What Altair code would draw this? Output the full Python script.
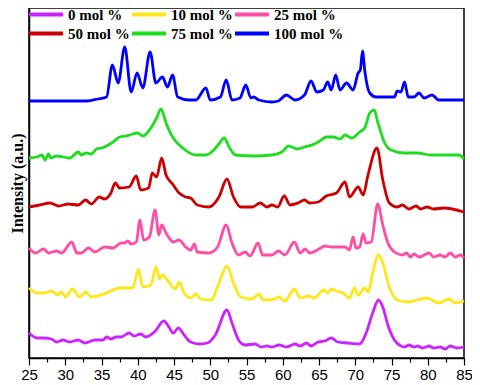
import altair as alt
import pandas as pd

names = ["0 mol %", "10 mol %", "25 mol %", "50 mol %", "75 mol %", "100 mol %"]
colors = ["#CC22FF", "#FFE619", "#FF4DA6", "#CC0000", "#1EDC1E", "#0000FF"]

x_ticks = [25, 27.5, 30, 32.5, 35, 37.5, 40, 42.5, 45, 47.5, 50, 52.5, 55,
           57.5, 60, 62.5, 65, 67.5, 70, 72.5, 75, 77.5, 80, 82.5, 85]

# 100 mol %
x_100 = [25, 30, 33, 34.5, 35.7, 36.5, 37.3, 38.2, 39.1, 39.9, 40.7, 41.7, 42.5,
         43.4, 44.1, 44.8, 45.5, 47.1, 48.0, 49.4, 50.0, 51.4, 52.2, 53.0, 54.1,
         54.9, 55.6, 56.0, 56.7, 58.5, 59.4, 60.5, 61.7, 63.0, 63.9, 64.7, 65.6,
         66.2, 66.7, 67.3, 67.9, 68.8, 69.7, 70.4, 70.7, 71.0, 71.3, 72.0, 72.9,
         74.5, 75.4, 75.8, 76.3, 76.8, 77.3, 78.1, 78.8, 79.5, 80.6, 81.5, 85]
y_100 = [257, 257, 257, 259, 261, 293, 275, 311, 266, 285, 270, 306, 275,
         281, 271, 283, 261, 258, 258, 270, 258, 261, 278, 258, 260,
         273, 260, 261, 258, 256, 257, 263, 258, 263, 277, 266, 268,
         276, 268, 283, 268, 275, 268, 285, 288, 307, 288, 265, 261,
         261, 261, 267, 266, 276, 261, 261, 265, 260, 263, 258, 258]

# 75 mol %
x_75 = [25, 26.1, 26.8, 27.2, 27.7, 28.0, 28.8, 30.6, 31.8, 32.2, 32.9, 33.6,
        34.3, 35.0, 36.6, 37.5, 38.4, 39.3, 40.0, 40.7, 41.8, 42.6, 43.2, 43.9,
        44.8, 46.2, 48.0, 49.4, 50.5, 51.3, 51.9, 52.6, 53.5, 56.2, 58.5, 59.9,
        60.8, 62.0, 63.0, 64.4, 65.1, 66.0, 67.0, 67.9, 68.6, 69.5, 70.6, 71.3,
        72.0, 72.6, 73.1, 74.0, 74.9, 76.8, 78.6, 80.4, 83.1, 84.3, 85]
y_75 = [200, 201, 203, 198, 204, 200, 202, 200, 206, 203, 205, 204,
        209, 210, 216, 221, 222, 224, 225, 222, 230, 240, 249, 235,
        221, 210, 203, 203, 208, 215, 220, 211, 203, 202, 203, 206,
        212, 209, 211, 214, 217, 221, 221, 219, 223, 220, 226, 230,
        245, 248, 236, 216, 208, 205, 205, 203, 203, 203, 199]

# 50 mol %
x_50 = [25, 26.5, 27.9, 29.1, 30.4, 31.8, 32.8, 33.6, 34.7, 35.4, 36.3, 36.9,
        37.5, 38.8, 39.8, 40.4, 41.5, 42.0, 42.6, 43.3, 43.9, 44.8, 45.7, 46.6,
        47.3, 48.2, 49.8, 51.2, 52.3, 53.2, 54.2, 55.8, 56.9, 57.8, 58.5, 59.3,
        60.2, 61.0, 62.1, 63.0, 63.7, 64.9, 66.0, 67.4, 68.6, 69.2, 70.4, 71.1,
        71.7, 73.0, 73.8, 74.7, 75.8, 76.5, 77.4, 78.4, 79.0, 79.9, 80.8, 82.2, 85]
y_50 = [151, 153, 155, 152, 154, 153, 158, 154, 161, 159, 165, 175,
        170, 171, 182, 168, 170, 185, 181, 200, 183, 174, 165, 161,
        160, 153, 151, 161, 179, 161, 151, 151, 155, 151, 153, 151,
        162, 153, 155, 158, 155, 156, 162, 165, 176, 161, 171, 163,
        181, 210, 178, 155, 151, 153, 149, 152, 149, 151, 149, 150, 146]

# 25 mol %
x_25 = [25, 25.9, 27.0, 27.7, 28.8, 29.5, 30.9, 31.6, 32.2, 33.2, 34.1, 35.4,
        36.6, 37.7, 38.2, 38.6, 39.1, 39.8, 40.3, 40.8, 41.6, 42.4, 42.9, 43.3,
        43.9, 44.9, 45.7, 46.6, 47.3, 47.8, 48.2, 49.8, 51.0, 52.2, 53.0, 53.9,
        54.8, 55.5, 56.6, 57.2, 58.5, 59.4, 60.3, 61.6, 62.4, 63.1, 63.7, 65.0,
        65.8, 66.7, 67.6, 68.6, 69.2, 69.7, 70.1, 70.6, 71.1, 71.5, 72.2, 73.1,
        73.8, 74.5, 75.4, 76.5, 77.1, 77.6, 78.1, 78.8, 80.2, 80.8, 81.7, 82.4,
        83.1, 83.8, 84.5, 85]
y_25 = [110, 105, 109, 105, 107, 105, 116, 105, 105, 110, 106, 111,
        110, 115, 115, 117, 114, 116, 138, 118, 121, 148, 123, 133,
        125, 116, 118, 111, 108, 114, 106, 105, 111, 133, 115, 103,
        106, 102, 115, 103, 103, 107, 103, 116, 105, 109, 105, 109,
        112, 111, 111, 111, 108, 121, 110, 111, 124, 115, 116, 154,
        133, 115, 106, 103, 105, 101, 104, 101, 105, 101, 103, 101,
        105, 101, 103, 100]

# 10 mol %
x_10 = [25, 26.1, 27.0, 28.1, 28.9, 29.5, 30.0, 31.0, 32.0, 32.8, 33.6, 35.7,
        37.5, 39.3, 40.1, 40.7, 41.8, 42.5, 43.0, 43.4, 44.1, 44.8, 45.2, 45.7,
        46.4, 47.3, 48.0, 48.7, 50.1, 51.2, 52.3, 53.2, 54.2, 55.8, 56.7, 57.3,
        58.9, 59.4, 60.3, 61.6, 62.4, 63.5, 64.4, 65.1, 65.6, 66.2, 66.7, 67.4,
        68.3, 69.2, 69.9, 70.4, 71.3, 71.8, 72.4, 73.2, 73.8, 74.7, 75.8, 77.2,
        78.6, 79.9, 81.5, 82.9, 83.8, 85]
y_10 = [70, 65, 65, 67, 63, 66, 61, 69, 61, 66, 61, 65,
        70, 70, 89, 71, 73, 91, 79, 83, 78, 71, 69, 76,
        65, 60, 64, 59, 58, 75, 92, 75, 61, 59, 64, 58,
        59, 61, 57, 69, 60, 62, 60, 65, 68, 65, 69, 67,
        65, 60, 70, 63, 70, 66, 85, 103, 95, 71, 58, 56,
        58, 60, 55, 59, 55, 57]

# 0 mol %
x_0 = [25, 26.1, 27.0, 28.1, 28.8, 29.7, 30.6, 31.8, 32.7, 34.1, 35.2, 35.7,
       36.3, 37.0, 37.7, 38.8, 39.5, 40.4, 41.1, 42.3, 43.6, 44.3, 44.9, 45.6,
       46.4, 47.3, 48.5, 49.6, 50.7, 52.3, 53.0, 53.9, 54.8, 56.2, 57.0, 57.8,
       58.5, 59.5, 60.5, 61.7, 62.4, 63.3, 63.9, 64.9, 65.8, 66.7, 67.6, 69.0,
       70.6, 71.5, 72.4, 73.2, 73.8, 74.5, 75.4, 76.3, 76.8, 77.4, 78.1, 78.6,
       79.3, 80.2, 80.8, 81.7, 82.4, 83.1, 84.0, 85]
y_0 = [25, 20, 20, 19, 16, 18, 16, 18, 15, 18, 18, 21,
       19, 21, 21, 25, 22, 24, 21, 26, 37, 31, 25, 30,
       23, 16, 14, 15, 23, 48, 35, 18, 13, 14, 11, 12,
       11, 13, 11, 14, 12, 15, 12, 16, 17, 20, 16, 15,
       14, 25, 45, 58, 51, 33, 18, 12, 11, 13, 11, 12,
       10, 12, 10, 11, 9, 12, 10, 11]

series_x = [x_0, x_10, x_25, x_50, x_75, x_100]
series_y = [y_0, y_10, y_25, y_50, y_75, y_100]

rows = []
for name, xs, ys in zip(names, series_x, series_y):
    for a, b in zip(xs, ys):
        rows.append({"series": name, "x": a, "y": b})
df = pd.DataFrame(rows)

chart = alt.Chart(df).mark_line(interpolate="monotone", strokeWidth=2.8).encode(
    x=alt.X("x:Q",
            scale=alt.Scale(domain=[25, 85], nice=False, zero=False),
            axis=alt.Axis(values=x_ticks, title=None, grid=False,
                          labelExpr="datum.value % 5 === 0 ? datum.label : ''",
                          tickSize={"condition": {"test": "datum.value % 5 === 0", "value": 7}, "value": 4},
                          labelFlush=False, labelOverlap=False, labelPadding=2)),
    y=alt.Y("y:Q",
            scale=alt.Scale(domain=[0, 350], nice=False, zero=False),
            axis=alt.Axis(title="Intensity (a.u.)", labels=False, ticks=False, grid=False,
                          titleFont="Liberation Serif", titleFontWeight="bold",
                          titleFontSize=16, titlePadding=4)),
    color=alt.Color("series:N",
                    scale=alt.Scale(domain=names, range=colors),
                    legend=alt.Legend(title=None, orient="none", legendX=-2, legendY=-3,
                                      direction="horizontal",
                                      columns=3, symbolType="stroke", symbolSize=1156,
                                      symbolStrokeWidth=4, labelFont="Liberation Serif",
                                      labelFontWeight="bold", labelFontSize=15,
                                      labelColor="black", labelOffset=3, clipHeight=19,
                                      rowPadding=0, columnPadding=-15, padding=0,
                                      labelLimit=200)),
).properties(
    width=435, height=350,
    autosize=alt.AutoSizeParams(type="none"),
    padding={"left": 21, "top": 0, "right": 8, "bottom": 26},
).configure_view(
    stroke="black", strokeWidth=1.5
).configure_axis(
    domainColor="black", domainWidth=1.5, tickColor="black", tickWidth=1.2,
    labelColor="black", titleColor="black", labelFont="Liberation Sans", labelFontSize=15
)

chart.save("out.html", embed_options={"renderer": "svg", "actions": False})
